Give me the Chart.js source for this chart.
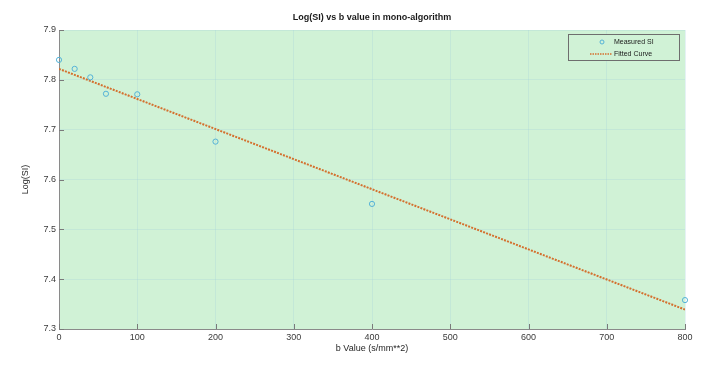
<!DOCTYPE html>
<html>
<head>
<meta charset="utf-8">
<script src="https://cdn.jsdelivr.net/npm/chart.js@4.4.1/dist/chart.umd.min.js"></script>
<style>
  html, body { margin: 0; padding: 0; background: #fff; }
  #wrap { width: 708px; height: 368px; }
</style>
</head>
<body>
<div id="wrap"><canvas id="fitChart" width="708" height="368"></canvas></div>
<script>
// values
const bValues = [0, 20, 40, 60, 100, 200, 400, 800];
const logSI = [7.840, 7.822, 7.805, 7.772, 7.771, 7.676, 7.551, 7.358];
const fitB = [0, 800];
const fitLogSI = [7.822, 7.339];

const title = "Log(SI) vs b value in mono-algorithm";
const xLabel = "b Value (s/mm**2)";
const yLabel = "Log(SI)";

const FONT = "'Liberation Sans', Arial, Helvetica, sans-serif";
const markerColor = "#55b3d8";
const fitColor = "#d4702e";

// green plot box, inward tick marks, title and the boxed legend
const matlabLook = {
  id: "matlabLook",
  beforeDraw(chart) {
    const a = chart.chartArea;
    const c = chart.ctx;
    c.save();
    c.fillStyle = "rgb(208,242,214)";
    c.fillRect(a.left, a.top, a.right - a.left, a.bottom - a.top);
    c.restore();
  },
  afterDatasetsDraw(chart) {
    const a = chart.chartArea;
    const c = chart.ctx;
    const xs = chart.scales.x;
    const ys = chart.scales.y;
    c.save();
    c.strokeStyle = "#7a7a7a";
    c.lineWidth = 1;
    c.beginPath();
    xs.ticks.forEach(t => {
      const px = Math.round(xs.getPixelForValue(t.value)) + 0.5;
      c.moveTo(px, a.bottom);
      c.lineTo(px, a.bottom - 5);
    });
    ys.ticks.forEach(t => {
      const py = Math.round(ys.getPixelForValue(t.value)) + 0.5;
      c.moveTo(a.left, py);
      c.lineTo(a.left + 5, py);
    });
    c.stroke();

    // title
    c.fillStyle = "#1a1a1a";
    c.font = "bold 9px " + FONT;
    c.textAlign = "center";
    c.textBaseline = "middle";
    c.fillText(title, (a.left + a.right) / 2, 18);

    // legend
    const box = { left: 568, top: 34, right: 679, bottom: 60 };
    c.fillStyle = "rgb(208,242,214)";
    c.fillRect(box.left, box.top, box.right - box.left, box.bottom - box.top);
    c.strokeStyle = "#6e6e6e";
    c.strokeRect(box.left + 0.5, box.top + 0.5, box.right - box.left, box.bottom - box.top);
    const ds = chart.data.datasets;
    c.font = "7px " + FONT;
    c.textAlign = "left";
    c.fillStyle = "#1a1a1a";
    c.fillText(ds[0].label, 614, 42);
    c.fillText(ds[1].label, 614, 54);
    c.strokeStyle = markerColor;
    c.beginPath();
    c.arc(602, 42, 2, 0, Math.PI * 2);
    c.stroke();
    c.strokeStyle = fitColor;
    c.lineWidth = 1.5;
    c.setLineDash([1.5, 1]);
    c.beginPath();
    c.moveTo(590, 54);
    c.lineTo(612, 54);
    c.stroke();
    c.restore();
  }
};

const ctx = document.getElementById("fitChart").getContext("2d");
const chart = new Chart(ctx, {
  type: "scatter",
  data: {
    datasets: [{
      label: "Measured SI",
      data: bValues.map((b, i) => ({ x: b, y: logSI[i] })),
      pointStyle: "circle",
      pointRadius: 2.6,
      pointBorderWidth: 1,
      pointBorderColor: markerColor,
      pointBackgroundColor: "rgba(0,0,0,0)",
      clip: false,
      order: 0
    }, {
      label: "Fitted Curve",
      data: fitB.map((b, i) => ({ x: b, y: fitLogSI[i] })),
      showLine: true,
      pointRadius: 0,
      borderColor: fitColor,
      borderWidth: 2,
      borderDash: [2, 1.2],
      order: 1
    }]
  },
  options: {
    responsive: false,
    animation: false,
    devicePixelRatio: 1,
    layout: { padding: { left: 0, right: 23, top: 30, bottom: 0 } },
    plugins: {
      legend: { display: false },
      tooltip: { enabled: false },
      title: { display: false }
    },
    scales: {
      x: {
        type: "linear",
        min: 0,
        max: 800,
        afterFit: s => { s.height = 39; },
        ticks: {
          stepSize: 100,
          padding: 3,
          color: "#3a3a3a",
          font: { family: FONT, size: 9 }
        },
        grid: { color: "rgba(160,210,220,0.28)", drawTicks: false },
        border: { color: "#8a8a8a", width: 1 },
        title: {
          display: true,
          text: xLabel,
          color: "#262626",
          font: { family: FONT, size: 9 },
          padding: { top: 0, bottom: 14 }
        }
      },
      y: {
        type: "linear",
        min: 7.3,
        max: 7.9,
        afterFit: s => { s.width = 59; },
        ticks: {
          stepSize: 0.1,
          padding: 3,
          color: "#3a3a3a",
          font: { family: FONT, size: 9 },
          callback: v => v.toFixed(1)
        },
        grid: { color: "rgba(160,210,220,0.28)", drawTicks: false },
        border: { color: "#8a8a8a", width: 1 },
        title: {
          display: true,
          text: yLabel,
          color: "#262626",
          font: { family: FONT, size: 9 },
          padding: { top: 20, bottom: 0 }
        }
      }
    }
  },
  plugins: [matlabLook]
});
</script>
</body>
</html>
